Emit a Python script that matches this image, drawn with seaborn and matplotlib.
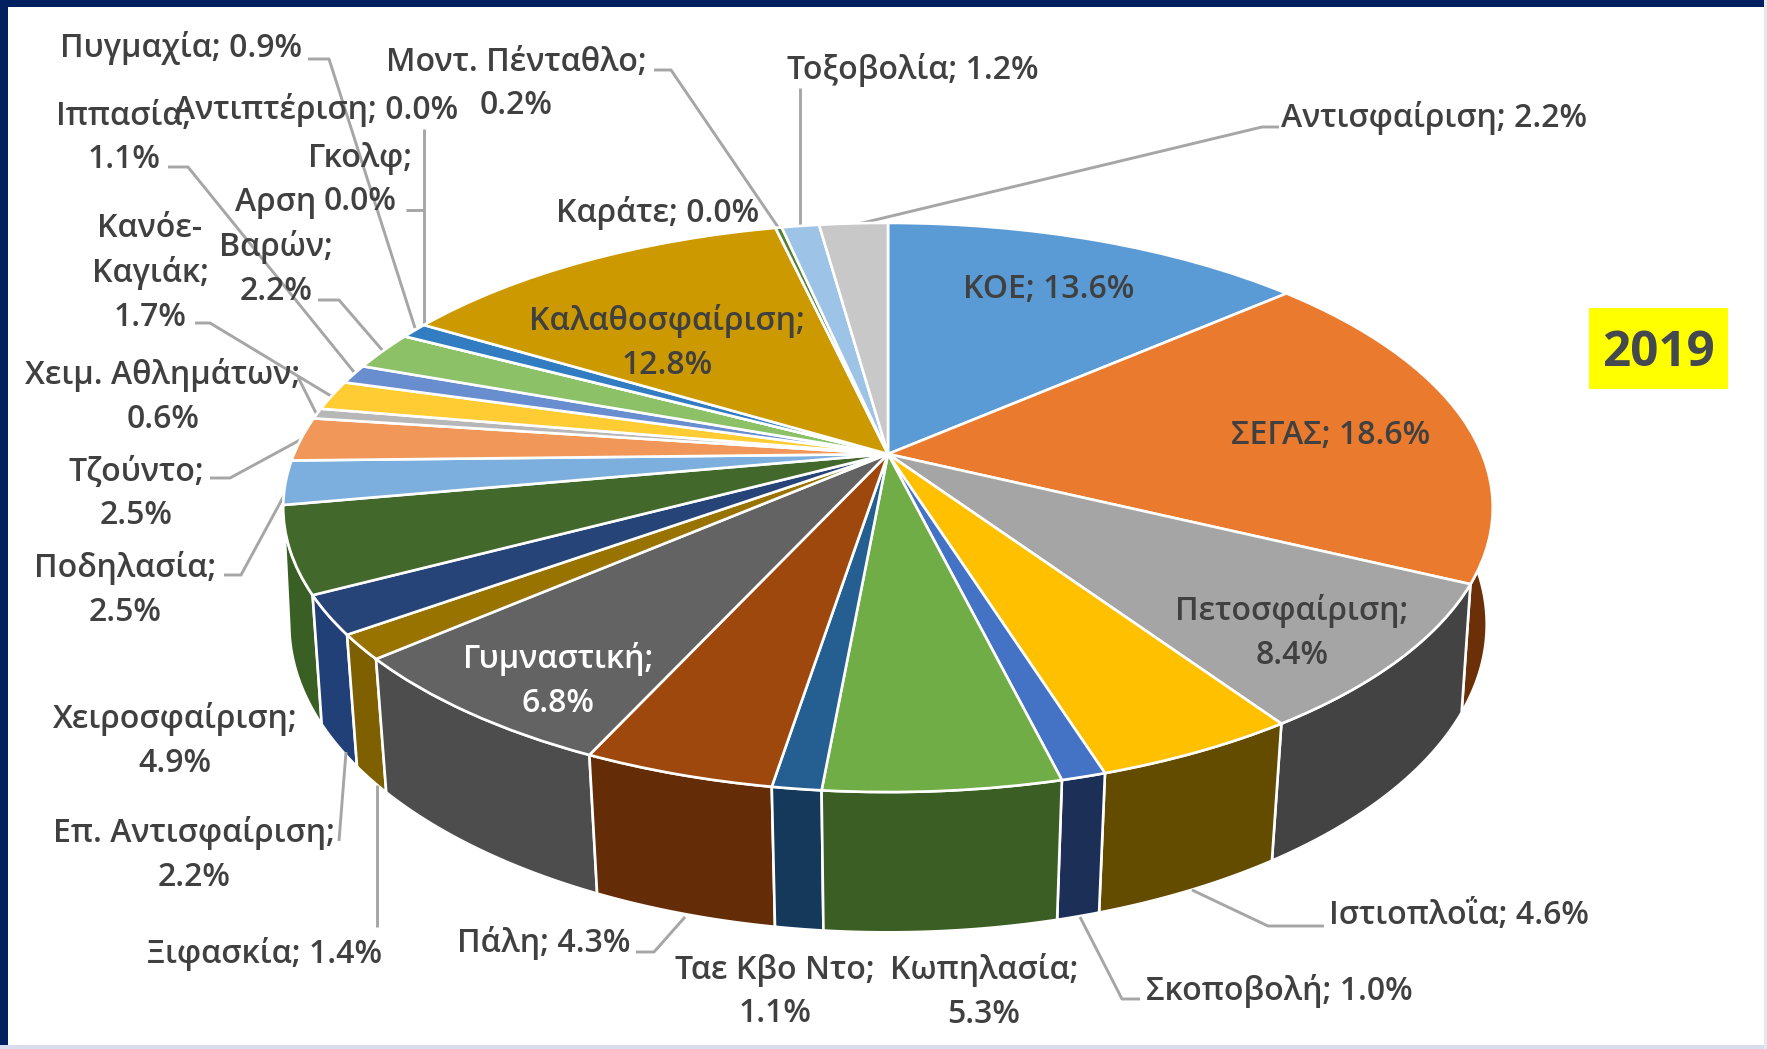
import numpy as np
import matplotlib
matplotlib.use("Agg")
import matplotlib.pyplot as plt
from matplotlib.patches import Rectangle
from matplotlib.transforms import Transform
import seaborn as sns

# ---- data (clockwise from 12 o'clock) ----
sports = ["ΚΟΕ", "ΣΕΓΑΣ", "Πετοσφαίριση", "Ιστιοπλοΐα", "Σκοποβολή", "Κωπηλασία", "Ταε Κβο Ντο",
          "Πάλη", "Γυμναστική", "Ξιφασκία", "Επ. Αντισφαίριση", "Χειροσφαίριση", "Ποδηλασία", "Τζούντο",
          "Χειμ. Αθλημάτων", "Κανόε-Καγιάκ", "Ιππασία", "Αρση Βαρών", "Γκολφ", "Αντιπτέριση", "Πυγμαχία",
          "Καλαθοσφαίριση", "Καράτε", "Μοντ. Πένταθλο", "Τοξοβολία", "Αντισφαίριση"]
shares = [13.6, 18.6, 8.4, 4.6, 1.0, 5.3, 1.1, 4.3, 6.8, 1.4, 2.2, 4.9, 2.5, 2.5,
          0.6, 1.7, 1.1, 2.2, 0.0, 0.0, 0.9, 12.8, 0.0, 0.2, 1.2, 2.2]
top_colors = ["#5B9BD5", "#E97A2E", "#A5A5A5", "#FFC000", "#4472C4", "#70AD47", "#255E91", "#9E480E",
              "#636363", "#997300", "#264478", "#43682B", "#7CAFDD", "#F1975A", "#B7B7B7", "#FFCD33",
              "#698ED0", "#8CC168", "#327DC2", "#327DC2", "#327DC2", "#CC9A00", "#548235", "#548235",
              "#9DC3E6", "#C8C8C8"]
wall_colors = ["#2F5F8A", "#6B3008", "#434343", "#634B00", "#1C2F57", "#3A5E24", "#15395A", "#652D07",
               "#4D4D4D", "#7F6000", "#214078", "#3A5F25"]
# ---- label placement (separate from the data)
breaks = {"Πετοσφαίριση": 1, "Κωπηλασία": 1, "Ταε Κβο Ντο": 1, "Γυμναστική": 1, "Επ. Αντισφαίριση": 1,
          "Χειροσφαίριση": 1, "Ποδηλασία": 1, "Τζούντο": 1, "Χειμ. Αθλημάτων": 1, "Ιππασία": 1,
          "Γκολφ": 1, "Καλαθοσφαίριση": 1, "Μοντ. Πένταθλο": 1}
label_xy = {"ΚΟΕ": (1049, 287), "ΣΕΓΑΣ": (1331, 433), "Πετοσφαίριση": (1292, 631), "Ιστιοπλοΐα": (1459, 913),
            "Σκοποβολή": (1279, 989), "Κωπηλασία": (984, 990), "Ταε Κβο Ντο": (775, 990), "Πάλη": (544, 941),
            "Γυμναστική": (558, 679), "Ξιφασκία": (265, 952), "Επ. Αντισφαίριση": (194, 853),
            "Χειροσφαίριση": (175, 739), "Ποδηλασία": (125, 588), "Τζούντο": (136, 492),
            "Χειμ. Αθλημάτων": (163, 395), "Κανόε-Καγιάκ": (150, 271), "Ιππασία": (124, 136),
            "Αρση Βαρών": (276, 245), "Γκολφ": (360, 178), "Αντιπτέριση": (316, 108), "Πυγμαχία": (181, 46),
            "Καλαθοσφαίριση": (667, 341), "Καράτε": (658, 211), "Μοντ. Πένταθλο": (516, 82),
            "Τοξοβολία": (913, 68), "Αντισφαίριση": (1434, 116)}
leaders = [[(308, 59), (329, 59), (415, 328)], [(424, 129), (424, 325)], [(406, 210), (424, 210)],
           [(318, 300), (339, 300), (383, 351)], [(168, 167), (188, 167), (354, 372)],
           [(195, 323), (210, 323), (331, 396)], [(298, 377), (316, 413)], [(210, 478), (230, 478), (300, 440)],
           [(224, 575), (241, 575), (287, 490)], [(339, 841), (346, 752)], [(377, 927), (377, 785)],
           [(636, 952), (654, 952), (685, 917)], [(1140, 999), (1122, 999), (1080, 917)],
           [(1192, 890), (1268, 926), (1324, 926)], [(800, 88), (800, 227)],
           [(654, 70), (671, 70), (780, 230)], [(854, 225), (1262, 127), (1279, 127)]]

W, H = 1767, 1049
CX, CY = 888, 454
TXT = "#404040"


class TiltedDisc(Transform):
    """Perspective map of the unit pie disc onto the tilted plane of the picture."""
    input_dims = output_dims = 2
    is_separable = False
    has_inverse = False

    def __init__(self, a, s, k, n=0.0):
        super().__init__()
        self.a, self.s, self.k, self.n = a, s, k, n

    def transform_non_affine(self, pts):
        pts = np.asarray(pts, float)
        u, v = pts[:, 0], pts[:, 1]
        w = 1 + self.k * v
        return np.column_stack([CX + self.a * u / w, CY + (self.n - self.s * v) / w])


sns.set_theme(style="white")
plt.rcParams["font.family"] = ["Open Sans", "DejaVu Sans"]
fig, ax = plt.subplots(figsize=(W / 100, H / 100), dpi=100)
ax.set_position([0, 0, 1, 1])

top = TiltedDisc(594, 274.5, 0.188)
floor = TiltedDisc(590, 279, 0.17, 118)

wedges, _ = ax.pie(shares, startangle=90, counterclock=False, colors=sns.color_palette(top_colors),
                   wedgeprops=dict(edgecolor="white", linewidth=1.9, zorder=5))
ax.set_aspect("auto")
ax.set_xlim(0, W)
ax.set_ylim(H, 0)
ax.axis("off")
for w in wedges:
    w.set_transform(top + ax.transData)

# side wall of each front slice, painted from the sides towards the viewer
parts = []
for i, w in enumerate(wedges[:len(wall_colors)]):
    p1, p2 = 90 - w.theta2, 90 - w.theta1
    p1c, p2c = max(p1, 55), min(p2, 262 if i == 11 else 305)
    if p2c > p1c:
        parts.append((abs((p1c + p2c) / 2 - 180), i, p1c, p2c))
for _, i, p1, p2 in sorted(parts, reverse=True):
    th = np.radians(90 - np.linspace(p1, p2, 60))
    disc = np.column_stack([np.cos(th), np.sin(th)])
    a = top.transform(disc)
    b = floor.transform(disc)[::-1]
    poly = np.vstack([a, b])
    ax.fill(poly[:, 0], poly[:, 1], color=wall_colors[i], ec="white", lw=1.9, zorder=2)

for pts in leaders:
    xs, ys = zip(*pts)
    ax.plot(xs, ys, color="#A6A6A6", lw=2.1, zorder=3, solid_capstyle="butt")

# text
for name, val in zip(sports, shares):
    x, y = label_xy[name]
    if name == "Κανόε-Καγιάκ":
        s = f"Κανόε-\nΚαγιάκ;\n{val:.1f}%"
    elif name == "Αρση Βαρών":
        s = f"Αρση\nΒαρών;\n{val:.1f}%"
    elif name in breaks:
        s = f"{name};\n{val:.1f}%"
    else:
        s = f"{name}; {val:.1f}%"
    ax.text(x, y + 2, s, ha="center", va="center", fontsize=23, fontweight=600,
            color="white" if name == "Γυμναστική" else TXT, linespacing=1.42, zorder=8)

# year badge
ax.add_patch(Rectangle((1589, 308), 139, 81, fc="#FFFF00", ec="none", zorder=6))
ax.text(1658, 353, "2019", ha="center", va="center", fontsize=35.5, fontweight="bold", color="#44484F", zorder=8)

# slide frame
ax.add_patch(Rectangle((0, 0), W, 7, fc="#002060", ec="none", zorder=9))
ax.add_patch(Rectangle((0, 0), 8, H, fc="#002060", ec="none", zorder=9))
ax.add_patch(Rectangle((0, 1045), W, 4, fc="#DADDEE", ec="none", zorder=9))
ax.add_patch(Rectangle((1764, 0), 3, H, fc="#E4E6F0", ec="none", zorder=9))

fig.savefig("out.png", dpi=100, facecolor="white")
